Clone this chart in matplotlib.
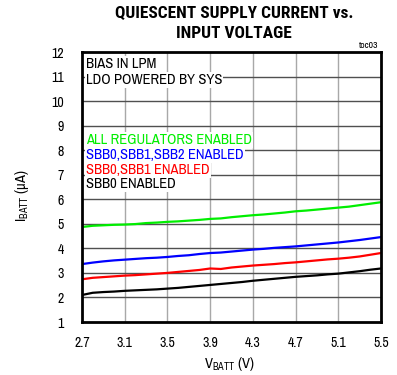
import matplotlib
matplotlib.use("Agg")
import matplotlib.pyplot as plt

plt.rcParams["font.family"] = ["Archivo Narrow", "Liberation Sans", "DejaVu Sans"]
plt.rcParams["mathtext.fontset"] = "custom"
plt.rcParams["mathtext.rm"] = "Archivo Narrow"

vbatt = [2.7, 2.8, 2.9, 3.0, 3.1, 3.2, 3.3, 3.4, 3.5, 3.6, 3.7, 3.8, 3.9, 4.0, 4.1, 4.2,
         4.3, 4.4, 4.5, 4.6, 4.7, 4.8, 4.9, 5.0, 5.1, 5.2, 5.3, 5.4, 5.5]
i_all = [4.87, 4.92, 4.94, 4.96, 4.97, 4.99, 5.03, 5.05, 5.08, 5.10, 5.13, 5.16, 5.20, 5.22,
         5.27, 5.31, 5.35, 5.38, 5.42, 5.46, 5.51, 5.54, 5.58, 5.62, 5.66, 5.70, 5.76, 5.82, 5.88]
i_sbb012 = [3.36, 3.42, 3.47, 3.51, 3.54, 3.57, 3.60, 3.62, 3.65, 3.69, 3.72, 3.77, 3.81,
            3.83, 3.87, 3.91, 3.95, 3.98, 4.02, 4.05, 4.08, 4.12, 4.16, 4.20, 4.24, 4.29,
            4.34, 4.40, 4.46]
i_sbb01 = [2.74, 2.80, 2.83, 2.86, 2.89, 2.91, 2.94, 2.97, 3.00, 3.04, 3.08, 3.12, 3.18,
           3.16, 3.22, 3.26, 3.30, 3.33, 3.36, 3.40, 3.43, 3.47, 3.51, 3.55, 3.58, 3.62,
           3.67, 3.74, 3.81]
i_sbb0 = [2.10, 2.19, 2.22, 2.24, 2.27, 2.29, 2.31, 2.33, 2.36, 2.39, 2.43, 2.47, 2.51,
          2.55, 2.59, 2.63, 2.68, 2.72, 2.76, 2.80, 2.84, 2.87, 2.90, 2.94, 2.97, 3.02,
          3.07, 3.13, 3.18]

series = [(i_all, "#00ee00"), (i_sbb012, "#0000ff"), (i_sbb01, "#ff0000"), (i_sbb0, "#000000")]

labels = [("BIAS IN LPM", "black"), ("LDO POWERED BY SYS", "black"),
          ("ALL REGULATORS ENABLED", "#00ee00"), ("SBB0,SBB1,SBB2 ENABLED", "#0000ff"),
          ("SBB0,SBB1 ENABLED", "#ff0000"), ("SBB0 ENABLED", "black")]
label_y = [64, 80, 140, 155, 170, 184]

xticks = [2.7, 3.1, 3.5, 3.9, 4.3, 4.7, 5.1, 5.5]
yticks = list(range(1, 13))

W, H = 397, 375
fig = plt.figure(figsize=(W / 100, H / 100), dpi=100)
ax = fig.add_axes([82 / W, 1 - 322 / H, (381 - 82) / W, (322 - 52) / H])

for x in xticks[1:-1]:
    ax.axvline(x, color="#a8a8a8", lw=1.0, zorder=1)
for y in yticks[1:-1]:
    ax.axhline(y, color="#505050", lw=1.0, zorder=1)

for ys, c in series:
    ax.plot(vbatt, ys, color=c, lw=1.6, zorder=3)

ax.set_xlim(2.7, 5.5)
ax.set_ylim(1, 12)
ax.set_xticks(xticks)
ax.set_xticklabels([f"{v:.1f}" for v in xticks])
ax.set_yticks(yticks)
ax.tick_params(length=0, labelsize=10, pad=10)
ax.tick_params(axis="y", pad=13)
for s in ax.spines.values():
    s.set_linewidth(2.0)
    s.set_zorder(5)

for (t, c), y in zip(labels, label_y):
    fig.text(86 / W, 1 - y / H, t, color=c, fontsize=10.5, va="center", ha="left",
             bbox=dict(facecolor="white", edgecolor="none", pad=0.6), zorder=10)

title_fam = ["Roboto Condensed", "Barlow Semi Condensed", "Liberation Sans"]
fig.text(234 / W, 1 - 14 / H, "QUIESCENT SUPPLY CURRENT vs.", ha="center", va="center",
         fontsize=12.5, fontweight="bold", family=title_fam)
fig.text(234 / W, 1 - 33 / H, "INPUT VOLTAGE", ha="center", va="center",
         fontsize=12.5, fontweight="bold", family=title_fam)
fig.text(378 / W, 1 - 46 / H, "toc03", ha="right", va="center", fontsize=7)

fig.text(22 / W, 1 - 196 / H, r"I$_{\mathregular{BATT}}$ (μA)", rotation=90,
         ha="center", va="center", fontsize=10.5)
fig.text(229 / W, 1 - 364 / H, r"V$_{\mathregular{BATT}}$ (V)", ha="center",
         va="center", fontsize=10.5)

fig.savefig("out.png", dpi=100)
